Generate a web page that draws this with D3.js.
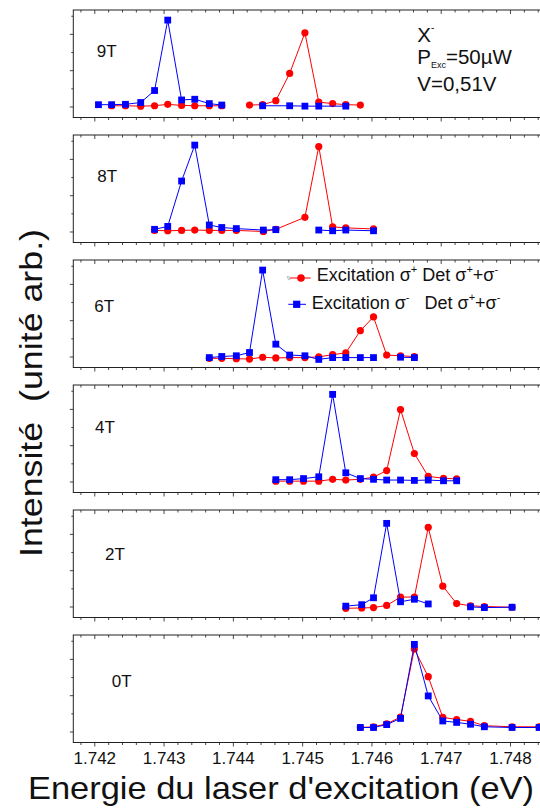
<!DOCTYPE html>
<html>
<head>
<meta charset="utf-8">
<script src="https://cdn.jsdelivr.net/npm/d3@7"></script>
<style>
  body { margin: 0; background: #fff; }
  svg { display: block; font-family: "Liberation Sans", Arial, sans-serif; }
  text { white-space: pre; }
</style>
</head>
<body>
<svg id="chart" width="540" height="809"></svg>
<script>
// ---- data ----
const fields = ["9T", "8T", "6T", "4T", "2T", "0T"];
const xTicks = [1.742, 1.743, 1.744, 1.745, 1.746, 1.747, 1.748];
const xTickLabels = ["1.742", "1.743", "1.744", "1.745", "1.746", "1.747", "1.748"];

// Excitation sigma- (blue squares); null = gap
const blue9T = [[1.74206,0.05],[1.74225,0.05],[1.74245,0.06],[1.74267,0.11],[1.74287,0.44],[1.74306,2.38],[1.74326,0.18],[1.74345,0.20],[1.74366,0.08],[1.74384,0.04],[1.7441,null],[1.74443,0.02],[1.74482,0.02],[1.74504,0.01],[1.74524,0.01],[1.74563,0.01]];
const blue8T = [[1.74287,0.06],[1.74306,0.14],[1.74326,1.39],[1.74345,2.38],[1.74366,0.18],[1.74384,0.11],[1.74405,0.08],[1.74444,0.04],[1.74462,0.05],[1.7449,null],[1.74524,0.04],[1.74544,0.02],[1.74563,0.04],[1.74603,0.02]];
const blue6T = [[1.74366,-0.03],[1.74384,0.00],[1.74405,0.02],[1.74424,0.11],[1.74443,2.38],[1.74462,0.34],[1.74482,0.04],[1.74504,0.02],[1.74524,-0.08],[1.74544,-0.03],[1.74563,-0.03],[1.74584,-0.03],[1.74603,-0.03],[1.7462,null],[1.74642,-0.02],[1.74662,-0.03]];
const blue4T = [[1.74462,0.05],[1.74482,0.05],[1.74502,0.08],[1.74524,0.13],[1.74544,2.40],[1.74563,0.24],[1.74584,0.08],[1.74603,0.06],[1.74622,0.04],[1.74642,0.04],[1.74662,0.03],[1.74682,0.04],[1.74704,0.02],[1.74723,0.02]];
const blue2T = [[1.74563,0.01],[1.74586,0.05],[1.74603,0.24],[1.74622,2.29],[1.74642,0.13],[1.74662,0.20],[1.74682,0.07],[1.7471,null],[1.74743,-0.01],[1.74763,-0.03],[1.74803,-0.02]];
const blue0T = [[1.74584,0.11],[1.74603,0.11],[1.74622,0.19],[1.74642,0.36],[1.74662,2.40],[1.74682,0.98],[1.74703,0.29],[1.74723,0.25],[1.74743,0.20],[1.74763,0.13],[1.74803,0.11],[1.74842,0.11]];

// Excitation sigma+ (red circles)
const red9T = [[1.74225,0.02],[1.74245,0.02],[1.74267,0.01],[1.74287,0.02],[1.74306,0.06],[1.74326,0.03],[1.74345,0.02],[1.74366,0.02],[1.74384,0.02],[1.7440,null],[1.74424,0.04],[1.74443,0.05],[1.74462,0.16],[1.74482,0.91],[1.74504,2.03],[1.74524,0.12],[1.74544,0.08],[1.74563,0.05],[1.74584,0.04]];
const red8T = [[1.74287,0.03],[1.74306,0.02],[1.74326,0.03],[1.74345,0.04],[1.74366,0.03],[1.74384,0.03],[1.74405,0.03],[1.74444,0.00],[1.74462,0.06],[1.74504,0.39],[1.74524,2.34],[1.74544,0.13],[1.74563,0.10],[1.74603,0.07]];
const red6T = [[1.74366,-0.05],[1.74384,-0.05],[1.74405,-0.06],[1.74424,-0.07],[1.74443,-0.02],[1.74462,-0.04],[1.74482,-0.03],[1.74504,-0.03],[1.74524,-0.01],[1.74544,0.05],[1.74563,0.10],[1.74584,0.71],[1.74603,1.09],[1.74622,0.04],[1.74642,0.02],[1.74662,0.00]];
const red4T = [[1.74462,0.01],[1.74482,0.01],[1.74502,0.01],[1.74524,0.01],[1.74544,0.06],[1.74563,0.04],[1.74584,0.06],[1.74603,0.12],[1.74622,0.30],[1.74642,1.98],[1.74662,0.77],[1.74682,0.14],[1.74704,0.09],[1.74723,0.07]];
const red2T = [[1.74563,-0.05],[1.74586,-0.04],[1.74603,-0.03],[1.74622,0.03],[1.74642,0.26],[1.74662,0.26],[1.74682,2.18],[1.74703,0.56],[1.74723,0.08],[1.74743,0.02],[1.74763,0.00],[1.74803,-0.02]];
const red0T = [[1.74584,0.11],[1.74603,0.13],[1.74622,0.21],[1.74642,0.40],[1.74662,2.27],[1.74682,1.51],[1.74703,0.39],[1.74723,0.33],[1.74743,0.28],[1.74763,0.16],[1.74803,0.13],[1.74842,0.13]];

const blueSeries = [blue9T, blue8T, blue6T, blue4T, blue2T, blue0T];
const redSeries = [red9T, red8T, red6T, red4T, red2T, red0T];

// ---- layout ----
const RED = "#ff0000", BLUE = "#0000ff";
const left = 73.3, right = 545;
const panelTop0 = 10, panelStep = 125, panelH = 107.5;
const labelPos = [[96.7, 46.7], [97.3, 47.3], [94.3, 51.7], [95, 48.3], [105, 50], [111.7, 51.7]];

const svg = d3.select("#chart");
const x = d3.scaleLinear().domain([1.741697, 1.748 + (right - 510) / 69.28 * 0.001]).range([left, right]);
const minorX = d3.range(1.7418, 1.7489, 0.0002).map(v => +v.toFixed(4)).filter(v => !xTicks.some(t => Math.abs(t - v) < 1e-6));

fields.forEach((f, i) => {
  const top = panelTop0 + i * panelStep;
  const g = svg.append("g").attr("transform", `translate(0,${top})`);
  const y = d3.scaleLinear().domain([-0.303, 2.658]).range([panelH, 0]);

  // ticks
  const axT = g.append("g").call(d3.axisTop(x).tickValues(xTicks).tickSize(-4).tickFormat(""));
  const axTm = g.append("g").call(d3.axisTop(x).tickValues(minorX).tickSize(-2.5).tickFormat(""));
  const axB = g.append("g").attr("transform", `translate(0,${panelH})`)
    .call(d3.axisBottom(x).tickValues(xTicks).tickSize(4).tickFormat(i === fields.length - 1 ? (d, k) => xTickLabels[k] : ""));
  const axBm = g.append("g").attr("transform", `translate(0,${panelH})`)
    .call(d3.axisBottom(x).tickValues(minorX).tickSize(2.5).tickFormat(""));
  const axL = g.append("g").attr("transform", `translate(${left},0)`)
    .call(d3.axisLeft(y).tickValues([0, 1, 2]).tickSize(3.5).tickFormat(""));
  const axLm = g.append("g").attr("transform", `translate(${left},0)`)
    .call(d3.axisLeft(y).tickValues([0.5, 1.5, 2.5]).tickSize(2).tickFormat(""));
  [axT, axTm, axB, axBm, axL, axLm].forEach(a => {
    a.select(".domain").remove();
    a.selectAll("line").attr("stroke", "#333").attr("stroke-width", 0.9);
  });
  axB.selectAll("text").attr("font-size", 17).attr("fill", "#111").attr("dy", 0).attr("y", 21.3)
    .attr("font-family", '"Liberation Sans", Arial, sans-serif');

  // frame
  g.append("rect").attr("x", left).attr("y", 0).attr("width", right - left).attr("height", panelH)
    .attr("fill", "none").attr("stroke", "#222").attr("stroke-width", 1);

  const line = d3.line().defined(d => d[1] !== null).x(d => x(d[0])).y(d => y(d[1]));

  // red series
  g.append("path").datum(redSeries[i]).attr("d", line).attr("fill", "none").attr("stroke", RED).attr("stroke-width", 1);
  g.selectAll(".rc").data(redSeries[i].filter(d => d[1] !== null)).join("circle")
    .attr("cx", d => x(d[0])).attr("cy", d => y(d[1])).attr("r", 3.6).attr("fill", RED);

  // blue series
  g.append("path").datum(blueSeries[i]).attr("d", line).attr("fill", "none").attr("stroke", BLUE).attr("stroke-width", 1);
  g.selectAll(".bs").data(blueSeries[i].filter(d => d[1] !== null)).join("rect")
    .attr("x", d => x(d[0]) - 3.4).attr("y", d => y(d[1]) - 3.4).attr("width", 6.8).attr("height", 6.8).attr("fill", BLUE);

  // field label
  g.append("text").attr("x", labelPos[i][0]).attr("y", labelPos[i][1]).attr("font-size", 17).attr("fill", "#111").text(f);
});

// annotation block (top right), one text element with three lines
const ann = svg.append("text").attr("x", 417.3).attr("y", 41.5).attr("font-size", 20.5).attr("fill", "#111");
ann.append("tspan").attr("x", 417.3).attr("y", 41.5).text("X");
ann.append("tspan").attr("font-size", 10).attr("dy", -11).text("-");
ann.append("tspan").attr("x", 417.3).attr("y", 64.3).text("P");
ann.append("tspan").attr("font-size", 9).attr("dy", 3.5).text("Exc");
ann.append("tspan").attr("dy", -3.5).text("=50µW");
ann.append("tspan").attr("x", 417.3).attr("y", 91).text("V=0,51V");

// legend (in 6T panel)
const lg = svg.append("g");
function legendText(xp, yp, supFirst, gap) {
  const t = lg.append("text").attr("x", xp).attr("y", yp).attr("font-size", 18).attr("fill", "#111");
  t.append("tspan").text("Excitation σ");
  t.append("tspan").attr("font-size", 11).attr("dy", -8).text(supFirst);
  t.append("tspan").attr("dy", 8).text(gap + "Det σ");
  t.append("tspan").attr("font-size", 11).attr("dy", -8).text("+");
  t.append("tspan").attr("dy", 8).text("+σ");
  t.append("tspan").attr("font-size", 11).attr("dy", -8).text("-");
}
// row 1 (red)
lg.append("line").attr("x1", 287).attr("x2", 288.6).attr("y1", 276).attr("y2", 280).attr("stroke", "#999").attr("stroke-width", 0.7);
lg.append("line").attr("x1", 288.6).attr("x2", 290.2).attr("y1", 276).attr("y2", 280).attr("stroke", "#999").attr("stroke-width", 0.7);
lg.append("line").attr("x1", 290).attr("x2", 310.7).attr("y1", 278).attr("y2", 278).attr("stroke", RED).attr("stroke-width", 1);
lg.append("circle").attr("cx", 301).attr("cy", 278).attr("r", 3.8).attr("fill", RED);
legendText(316.7, 281.3, "+", " ");
// row 2 (blue)
lg.append("line").attr("x1", 288.3).attr("x2", 306).attr("y1", 304.3).attr("y2", 304.3).attr("stroke", BLUE).attr("stroke-width", 1);
lg.append("rect").attr("x", 296.7 - 3.6).attr("y", 304.3 - 3.6).attr("width", 7.2).attr("height", 7.2).attr("fill", BLUE);
legendText(311.7, 308.7, "-", "   ");

// axis titles
svg.append("text").attr("x", 281).attr("y", 799).attr("text-anchor", "middle")
  .attr("font-size", 32).attr("fill", "#111")
  .attr("textLength", 506).attr("lengthAdjust", "spacingAndGlyphs")
  .text("Energie du laser d'excitation (eV)");
svg.append("text").attr("transform", "translate(42,393) rotate(-90)").attr("text-anchor", "middle")
  .attr("font-size", 32).attr("fill", "#111")
  .attr("textLength", 328).attr("lengthAdjust", "spacingAndGlyphs")
  .text("Intensité  (unité arb.)");
</script>
</body>
</html>
